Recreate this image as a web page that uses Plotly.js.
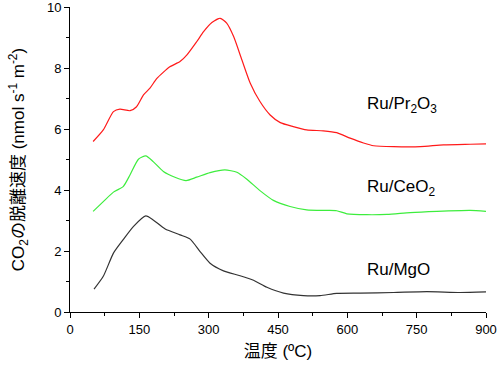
<!DOCTYPE html>
<html><head><meta charset="utf-8">
<script src="https://cdn.plot.ly/plotly-3.0.1.min.js"></script>
<style>body{margin:0;background:#fff}#c{width:500px;height:370px}</style>
</head><body><div id="c"></div>
<script>
const prT = [50,72,94,108,130,144,159,173,188,216,238,253,274,289,307,325,339,354,372,390,411,433,455,483,512,548,577,606,635,657,700,758,808,866,900];
const prV = [5.59,5.97,6.57,6.65,6.60,6.73,7.12,7.34,7.66,8.04,8.21,8.43,8.86,9.19,9.49,9.63,9.47,9.03,8.26,7.50,6.90,6.46,6.21,6.08,5.97,5.94,5.88,5.70,5.54,5.45,5.42,5.42,5.48,5.50,5.51];
const ceT = [50,72,94,115,130,148,164,180,202,227,251,274,303,335,361,382,411,440,476,512,556,577,599,642,686,736,794,866,900];
const ceV = [3.30,3.62,3.93,4.11,4.50,5.01,5.12,4.93,4.61,4.42,4.31,4.42,4.57,4.66,4.58,4.36,3.98,3.66,3.46,3.35,3.33,3.32,3.22,3.19,3.20,3.26,3.30,3.33,3.30];
const mgT = [52,72,94,115,137,164,180,206,238,260,281,303,332,368,397,426,462,505,541,577,628,700,772,844,900];
const mgV = [0.75,1.17,1.93,2.37,2.80,3.15,3.02,2.72,2.53,2.39,1.99,1.60,1.35,1.19,1.04,0.81,0.62,0.54,0.54,0.61,0.62,0.64,0.67,0.64,0.66];
const labelText = ["Ru/Pr<sub>2</sub>O<sub>3</sub>","Ru/CeO<sub>2</sub>","Ru/MgO"];
const labelX = [639,639,639];
const labelY = [6.79,4.07,1.39];
const xTicks = [0,150,300,450,600,750,900];
const yTicks = [0,2,4,6,8,10];

const font = "Liberation Sans, Arial, Noto Sans CJK JP, sans-serif";
function tr(x,y,c){return {x:x,y:y,type:'scatter',mode:'lines',line:{color:c,width:1.2,shape:'spline',smoothing:0.6},hoverinfo:'skip'};}
const data = [tr(prT,prV,'#ff1a1a'), tr(ceT,ceV,'#3ded3d'), tr(mgT,mgV,'#333333')];
const annotations = labelText.map((t,i)=>({x:labelX[i],y:labelY[i],xref:'x',yref:'y',text:t,showarrow:false,xanchor:'left',yanchor:'middle',font:{family:font,size:17,color:'#000'}}));
const layout = {
  width:500,height:370,
  margin:{l:70,r:14,t:7,b:58},
  paper_bgcolor:'#fff',plot_bgcolor:'#fff',
  showlegend:false,
  font:{family:font,size:13,color:'#000'},
  xaxis:{range:[0,900],tickvals:xTicks,ticks:'outside',ticklen:5,tickwidth:1,tickcolor:'#000',
    showline:true,linecolor:'#000',linewidth:1,showgrid:false,zeroline:false,ticklabeloverflow:'allow',
    minor:{dtick:75,ticks:'outside',ticklen:3,tickcolor:'#000',showgrid:false},
    tickfont:{size:13},title:{text:'温度 (ºC)',font:{size:17},standoff:9}},
  yaxis:{range:[0,10],tickvals:yTicks,ticks:'outside',ticklen:5,tickwidth:1,tickcolor:'#000',
    showline:true,linecolor:'#000',linewidth:1,showgrid:false,zeroline:false,ticklabeloverflow:'allow',
    minor:{dtick:1,ticks:'outside',ticklen:3,tickcolor:'#000',showgrid:false},
    tickfont:{size:13},title:{text:'CO<sub>2</sub>の脱離速度 (nmol s<sup>-1</sup> m<sup>-2</sup>)',font:{size:17},standoff:17}},
  annotations:annotations
};
Plotly.newPlot('c',data,layout,{displayModeBar:false,staticPlot:true});
</script></body></html>
